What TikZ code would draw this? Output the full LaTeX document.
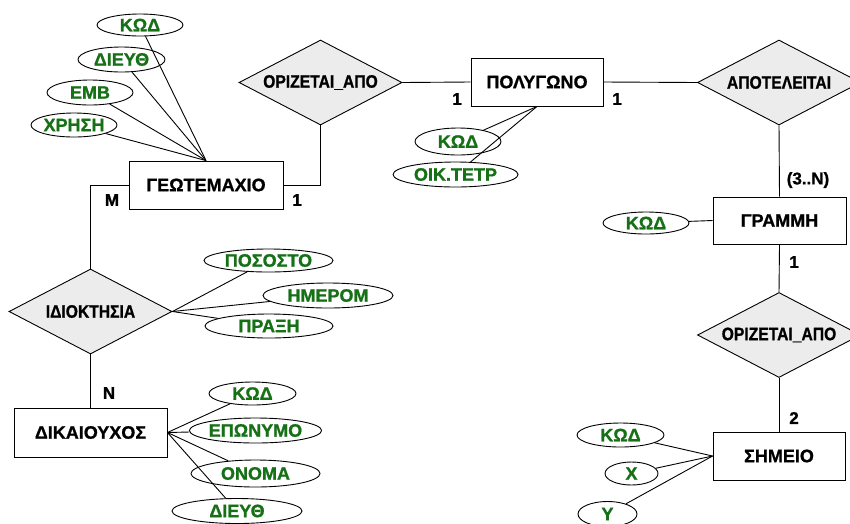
\documentclass[tikz,border=0pt]{standalone}
\usepackage{fontspec}
\setmainfont{Liberation Sans}[BoldFeatures={FakeBold=1}]
\newfontfamily\relfont{Liberation Sans}[FakeStretch=0.87, BoldFeatures={FakeBold=1}]
\usetikzlibrary{shapes.geometric}
\definecolor{attrgreen}{RGB}{22,112,22}
\definecolor{relfill}{RGB}{236,236,236}
\tikzset{
  entity/.style={draw, line width=0.9pt, fill=white, minimum width=#1, minimum height=48pt, inner sep=0pt,
    font=\bfseries\fontsize{18}{20}\selectfont},
  rel/.style={draw, diamond, aspect=1.9, line width=0.9pt, fill=relfill, inner sep=0pt,
    minimum width=163pt, minimum height=85pt, font=\relfont\bfseries\fontsize{18}{20}\selectfont},
  attr/.style={draw, ellipse, line width=0.9pt, fill=white, inner sep=0pt, minimum height=24pt,
    minimum width=#1, text=attrgreen, font=\bfseries\fontsize{18}{20}\selectfont},
  card/.style={inner sep=0pt, font=\bfseries\fontsize{17}{20}\selectfont},
  conn/.style={line width=0.9pt}
}
\begin{document}
\begin{tikzpicture}[x=1pt,y=-1pt]
\useasboundingbox (0,0) rectangle (850,523);
% relationships
\node[rel] (or1) at (320.5,82.5) {ΟΡΙΖΕΤΑΙ\_ΑΠΟ};
\node[rel] (apo) at (779,82.5) {ΑΠΟΤΕΛΕΙΤΑΙ};
\node[rel] (or2) at (779,335) {ΟΡΙΖΕΤΑΙ\_ΑΠΟ};
\node[rel] (idi) at (90.5,311.5) {ΙΔΙΟΚΤΗΣΙΑ};
% entities
\node[entity=154pt] (geo) at (206,185) {ΓΕΩΤΕΜΑΧΙΟ};
\node[entity=132pt] (pol) at (537,82) {ΠΟΛΥΓΩΝΟ};
\node[entity=133pt, minimum height=47pt] (gram) at (779.5,220.5) {ΓΡΑΜΜΗ};
\node[entity=132pt] (sim) at (779,456) {ΣΗΜΕΙΟ};
\node[entity=153pt, minimum height=49pt] (dik) at (90.5,432.5) {ΔΙΚΑΙΟΥΧΟΣ};
% relationship connectors
\draw[conn] (geo.east) -| (or1.south);
\draw[conn] (or1.east) -- (pol.west);
\draw[conn] (pol.east) -- (apo.west);
\draw[conn] (apo.south) -- (gram.north);
\draw[conn] (gram.south) -- (or2.north);
\draw[conn] (or2.south) -- (sim.north);
\draw[conn] (geo.west) -| (idi.north);
\draw[conn] (idi.south) -- (dik.north);
% attributes
\node[attr=86pt, minimum height=22pt] (gk) at (140,25) {ΚΩΔ};
\node[attr=87pt, minimum height=25pt] (gd) at (121.5,59.5) {ΔΙΕΥΘ};
\node[attr=86pt, minimum height=25pt] (ge) at (90,92.5) {ΕΜΒ};
\node[attr=86pt] (gx) at (74,125) {ΧΡΗΣΗ};
\node[attr=86pt, minimum height=27pt] (pk) at (458,141.5) {ΚΩΔ};
\node[attr=125pt, minimum height=25pt] (po) at (455.5,174.5) {ΟΙΚ.ΤΕΤΡ};
\node[attr=86pt, minimum height=22pt] (rk) at (646,223) {ΚΩΔ};
\node[attr=129pt, minimum height=23pt] (ip) at (268.5,260.5) {ΠΟΣΟΣΤΟ};
\node[attr=130pt, minimum height=25pt] (ih) at (328,295.5) {ΗΜΕΡΟΜ};
\node[attr=128pt] (ix) at (269,326) {ΠΡΑΞΗ};
\node[attr=87pt, minimum height=23pt] (dk) at (252.5,393.5) {ΚΩΔ};
\node[attr=129pt, minimum height=25pt] (de) at (255.5,430.5) {ΕΠΩΝΥΜΟ};
\node[attr=129pt, minimum height=27pt] (dn) at (255.5,473.5) {ΟΝΟΜΑ};
\node[attr=130pt, minimum height=25pt] (dd) at (237,511) {ΔΙΕΥΘ};
\node[attr=87pt] (sk) at (620.5,435) {ΚΩΔ};
\node[attr=53pt, minimum height=23pt] (sx) at (631.5,473.5) {X};
\node[attr=59pt, minimum height=25pt] (sy) at (607.5,514) {Y};
% attribute connectors
\foreach \a in {gk,gd,ge,gx} \draw[conn] (\a) -- (geo.north);
\foreach \a in {pk,po} \draw[conn] (\a) -- (pol.south);
\draw[conn] (rk) -- (gram.west);
\foreach \a in {ip,ih,ix} \draw[conn] (\a) -- (idi.east);
\foreach \a in {dk,de,dn,dd} \draw[conn] (\a) -- (dik.east);
\foreach \a in {sk,sx,sy} \draw[conn] (\a) -- (sim.west);
% cardinalities
\node[card] (c1) at (457,99) {1};
\node[card] (c2) at (617,99) {1};
\node[card] (c3) at (297,200) {1};
\node[card] (c4) at (112,200) {M};
\node[card] (c5) at (109,393) {N};
\node[card] (c6) at (808,180) {(3..N)};
\node[card] (c7) at (794,262) {1};
\node[card] (c8) at (794,418) {2};
\end{tikzpicture}
\end{document}
